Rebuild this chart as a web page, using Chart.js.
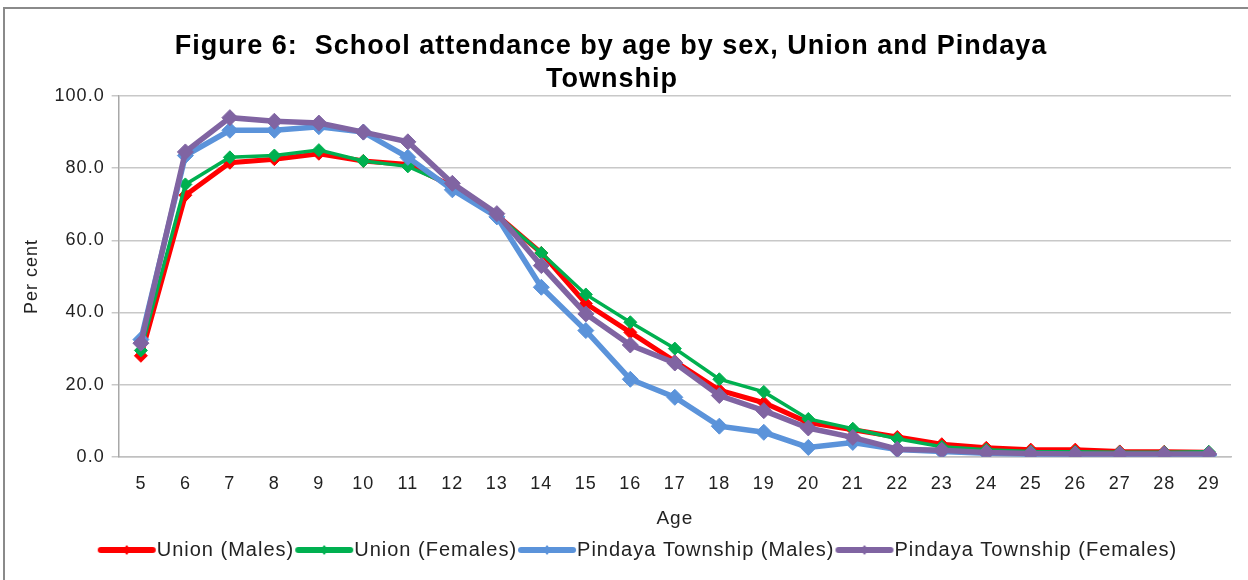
<!DOCTYPE html>
<html>
<head>
<meta charset="utf-8">
<script src="https://cdn.jsdelivr.net/npm/chart.js@4.4.0/dist/chart.umd.min.js"></script>
<style>
  body { margin: 0; background: #fff; }
  .frame { position: absolute; left: 3px; top: 7px; width: 1260px; height: 600px; border: 2px solid #8a8a8a; }
  .wrap { position: absolute; left: 0; top: 0; width: 1248px; height: 580px; }
</style>
</head>
<body>
<div class="frame"></div>
<div class="wrap"><canvas class="chart-attendance"></canvas></div>
<script>
const ages = ['5', '6', '7', '8', '9', '10', '11', '12', '13', '14', '15', '16', '17', '18', '19', '20', '21', '22', '23', '24', '25', '26', '27', '28', '29'];

const unionMales = [28, 72.5, 81.5, 82.5, 84, 82, 81, 75, 67, 56.5, 42.5, 34.5, 26.5, 18.5, 15, 9.5, 7.5, 5.5, 3.5, 2.5, 2, 2, 1.5, 1.4, 1.3];
const unionFemales = [29.5, 75.5, 83, 83.5, 85, 82, 80.5, 75, 67, 56.5, 45, 37.3, 30, 21.5, 18, 10.5, 7.8, 5, 2.8, 2, 1.5, 1.4, 1.3, 1.3, 1.4];
const pindayaMales = [32.5, 83.5, 90.5, 90.5, 91.5, 90, 83, 74, 66.5, 47, 35, 21.5, 16.5, 8.5, 6.8, 2.6, 4, 2, 1.5, 1, 0.7, 0.6, 0.5, 0.4, 0.5];
const pindayaFemales = [31.5, 84.5, 94, 93, 92.5, 90, 87.3, 75.8, 67.4, 53, 39.6, 31, 26, 17, 12.8, 8, 5.4, 2.1, 1.8, 1.2, 0.9, 0.8, 0.8, 0.8, 0.8];

const seriesNames = ['Union (Males)', 'Union (Females)', 'Pindaya Township (Males)', 'Pindaya Township (Females)'];
const seriesColours = ['#ff0000', '#00b050', '#5b93da', '#8064a2'];
const titleLines = ['Figure 6:  School attendance by age by sex, Union and Pindaya', 'Township'];

const fontName = 'Liberation Sans';
const textColour = '#222';

const chartCanvas = document.querySelector('.chart-attendance');

// line + small diamond for the legend (like the excel legend)
function legendMark(colour, thick) {
    const c = document.createElement('canvas');
    c.width = 60;
    c.height = 12;
    const ctx = c.getContext('2d');
    ctx.strokeStyle = colour;
    ctx.lineWidth = thick;
    ctx.lineCap = 'round';
    ctx.beginPath();
    ctx.moveTo(4, 6);
    ctx.lineTo(56, 6);
    ctx.stroke();
    ctx.fillStyle = colour;
    ctx.beginPath();
    ctx.moveTo(30, 1);
    ctx.lineTo(34, 6);
    ctx.lineTo(30, 11);
    ctx.lineTo(26, 6);
    ctx.closePath();
    ctx.fill();
    return c;
}

function makeDataset(i, data, width, radius, order) {
    return {
        label: seriesNames[i],
        data: data,
        borderColor: seriesColours[i],
        backgroundColor: seriesColours[i],
        borderWidth: width,
        pointStyle: 'rectRot',
        pointRadius: radius,
        pointHoverRadius: radius,
        pointBorderWidth: 1,
        order: order,
        legendMark: legendMark(seriesColours[i], 6)
    };
}

// the excel picture has slightly spaced out text
const spacing = {
    id: 'spacing',
    beforeUpdate(chart) { chart.ctx.letterSpacing = '1px'; },
    beforeDraw(chart) { chart.ctx.letterSpacing = '1px'; },
    afterLayout(chart) {
        // legend in the original sits a bit right of centre
        chart.legend.left += 16;
        chart.legend.right += 16;
    }
};

// title drawn by hand so it can sit where the original has it
const chartTitle = {
    id: 'chartTitle',
    afterDraw(chart) {
        const ctx = chart.ctx;
        ctx.save();
        ctx.letterSpacing = '1px';
        ctx.font = 'bold 27px "' + fontName + '"';
        ctx.fillStyle = '#000';
        ctx.textAlign = 'center';
        ctx.textBaseline = 'middle';
        ctx.fillText(titleLines[0], 611, 47);
        ctx.fillText(titleLines[1], 612, 80);
        ctx.restore();
    }
};

new Chart(chartCanvas, {
    type: 'line',
    data: {
        labels: ages,
        datasets: [
            makeDataset(0, unionMales, 5, 6.5, 4),
            makeDataset(1, unionFemales, 3.5, 6.5, 3),
            makeDataset(2, pindayaMales, 5.5, 8, 2),
            makeDataset(3, pindayaFemales, 5.5, 8, 1)
        ]
    },
    plugins: [spacing, chartTitle],
    options: {
        responsive: true,
        maintainAspectRatio: false,
        animation: false,
        layout: {
            padding: { left: 21, right: 17, top: 96, bottom: 10 }
        },
        plugins: {
            title: { display: false },
            legend: {
                position: 'bottom',
                labels: {
                    usePointStyle: true,
                    pointStyleWidth: 40,
                    boxHeight: 12,
                    color: textColour,
                    padding: 10,
                    font: { family: fontName, size: 20 },
                    sort: (a, b) => a.datasetIndex - b.datasetIndex,
                    generateLabels: function (chart) {
                        const items = Chart.defaults.plugins.legend.labels.generateLabels(chart);
                        items.forEach(item => {
                            item.pointStyle = chart.data.datasets[item.datasetIndex].legendMark;
                        });
                        return items;
                    }
                }
            },
            tooltip: { enabled: false }
        },
        scales: {
            x: {
                offset: true,
                grid: { display: false, drawTicks: false },
                border: { color: '#c0c0c0', width: 1.5 },
                ticks: { color: textColour, font: { family: fontName, size: 18, lineHeight: 1 }, padding: 18 },
                title: { display: true, text: 'Age', color: textColour, font: { family: fontName, size: 19, lineHeight: 0.85 }, padding: { top: 0, bottom: 3 } }
            },
            y: {
                min: 0,
                max: 100,
                ticks: {
                    stepSize: 20,
                    color: textColour,
                    font: { family: fontName, size: 18 },
                    padding: 7,
                    callback: value => value.toFixed(1)
                },
                grid: { color: '#c8c8c8', lineWidth: 1.5, tickLength: 7 },
                border: { color: '#a8a8a8', width: 1.5 },
                title: { display: true, text: 'Per cent', color: textColour, font: { family: fontName, size: 18 }, padding: { top: 0, bottom: 5 } }
            }
        }
    }
});
</script>
</body>
</html>
